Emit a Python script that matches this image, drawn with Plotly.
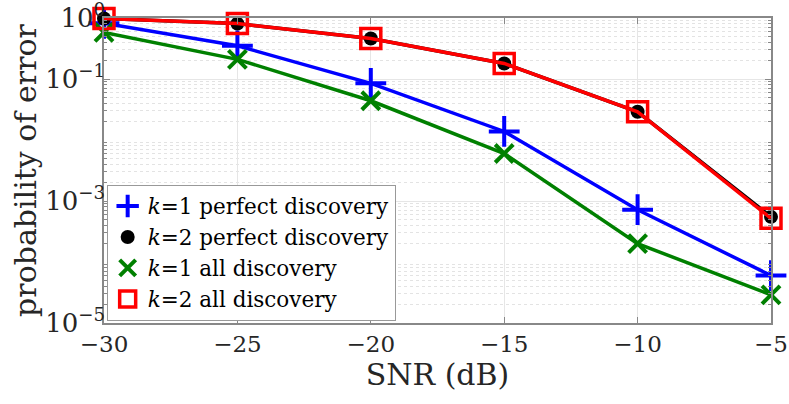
import plotly.graph_objects as go

# SNR values (dB)
snr = [-30, -25, -20, -15, -10, -5]

# probability of error for each scheme
k1_perfect = [0.82, 0.35, 0.085, 0.0138, 7.2e-4, 6.0e-5]
k2_perfect = [0.98, 0.81, 0.46, 0.18, 0.029, 5.5e-4]
k1_all = [0.58, 0.21, 0.044, 0.0060, 2.0e-4, 2.9e-5]
k2_all = [0.98, 0.81, 0.46, 0.18, 0.029, 5.2e-4]

names = ["<i>k</i>=1 perfect discovery", "<i>k</i>=2 perfect discovery",
         "<i>k</i>=1 all discovery", "<i>k</i>=2 all discovery"]

ytick_vals = [1e-5, 1e-3, 1e-1, 1]
ytick_text = ["10<sup>\u22125</sup>", "10<sup>\u22123</sup>", "10<sup>\u22121</sup>", "10<sup>0</sup>"]
xtick_vals = [-30, -25, -20, -15, -10, -5]
xtick_text = ["\u221230", "\u221225", "\u221220", "\u221215", "\u221210", "\u22125"]

FONT = "DejaVu Serif"

# style per series: colour, symbol, marker size, marker line width, fill
styles = [
    ("#0000ff", "cross-thin-open", 22, 4, None),
    ("#000000", "circle", 14, 0, "#000000"),
    ("#008000", "x-thin-open", 18, 4, None),
    ("#ff0000", "square-open", 20, 3.5, None),
]
series = [k1_perfect, k2_perfect, k1_all, k2_all]

fig = go.Figure()
for vals, (col, sym, sz, lw, fill) in zip(series, styles):
    fig.add_trace(go.Scatter(
        x=snr, y=vals, mode="lines+markers", showlegend=False, cliponaxis=False,
        line=dict(color=col, width=3.5),
        marker=dict(symbol=sym, size=sz, color=fill or col,
                    line=dict(color=col, width=lw)),
    ))

# legend-only entries (markers without line, like MATLAB)
for name, (col, sym, sz, lw, fill) in zip(names, styles):
    fig.add_trace(go.Scatter(
        x=[None], y=[None], mode="markers", name=name,
        marker=dict(symbol=sym, size=min(sz, 16), color=fill or col,
                    line=dict(color=col, width=lw)),
    ))

minor_y = [m * 10 ** e for e in range(-5, 0) for m in range(2, 10)]

fig.update_layout(
    width=789, height=404,
    margin=dict(l=104, r=18, t=18, b=81),
    paper_bgcolor="white", plot_bgcolor="white",
    font=dict(family=FONT, size=24, color="#262626"),
    legend=dict(x=0.004, y=0.008, xanchor="left", yanchor="bottom",
                bgcolor="white", bordercolor="#999999", borderwidth=1,
                font=dict(size=21.5, color="#000000"),
                tracegroupgap=0, itemwidth=30),
    xaxis=dict(
        range=[-30, -5], tickvals=xtick_vals, ticktext=xtick_text, automargin=False,
        ticks="inside", ticklen=6, tickcolor="#888888", mirror="ticks",
        ticklabeloverflow="allow", tickfont=dict(size=23),
        showline=True, linecolor="#888888", linewidth=1.5,
        showgrid=True, gridcolor="#e6e6e6", gridwidth=1, zeroline=False,
        title=dict(text="SNR (dB)", standoff=8, font=dict(size=30)),
    ),
    yaxis=dict(
        type="log", range=[-5, 0], tickvals=ytick_vals, ticktext=ytick_text, automargin=False,
        ticks="inside", ticklen=6, tickcolor="#888888", mirror="ticks",
        ticklabelstandoff=-8, ticklabeloverflow="allow", tickfont=dict(size=26),
        showline=True, linecolor="#888888", linewidth=1.5,
        showgrid=True, gridcolor="#e6e6e6", gridwidth=1, zeroline=False,
        minor=dict(tickvals=minor_y, ticks="inside", ticklen=3, tickcolor="#888888",
                   showgrid=True, gridcolor="#e3e3e3", griddash="dot", gridwidth=1),
        title=dict(text="probability of error", standoff=0, font=dict(size=30)),
    ),
)

# drop the default 8px page margin so the figure fills the window
fig.write_html("out.html", config={"displayModeBar": False},
               post_script="document.body.style.margin = '0';")
